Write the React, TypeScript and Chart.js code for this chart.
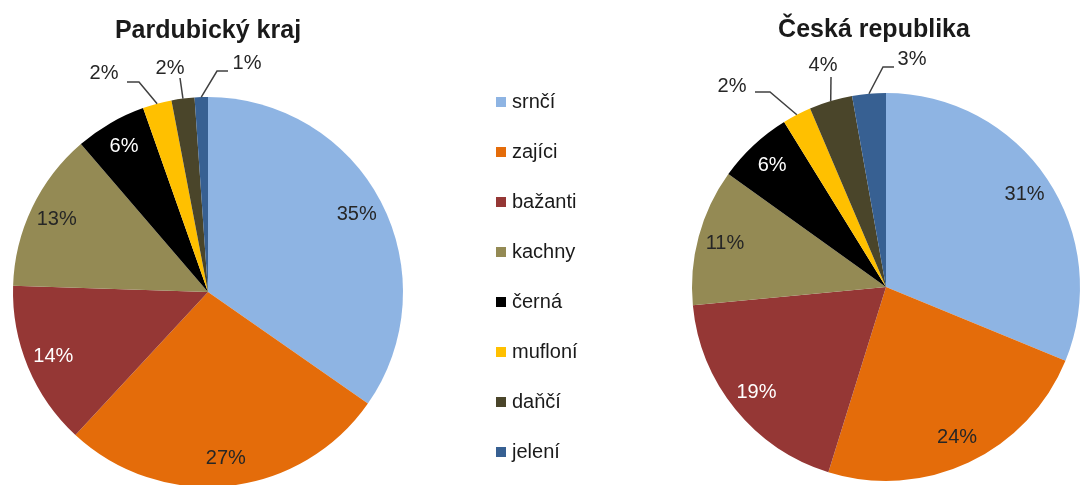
import React, { useEffect, useRef } from 'react';
import { Chart, registerables } from 'chart.js';

Chart.register(...registerables);

// ---- data ----
const categories = ['srnčí', 'zajíci', 'bažanti', 'kachny', 'černá', 'mufloní', 'daňčí', 'jelení'];
const pardubickyValues = [34.7, 27.2, 13.6, 13.2, 5.9, 2.4, 1.9, 1.1];
const ceskaValues = [31.2, 23.6, 18.7, 11.4, 6.3, 2.4, 3.6, 2.8];
const sliceColors = ['#8EB4E3', '#E46C0A', '#953735', '#948A54', '#000000', '#FFC000', '#4A452A', '#376092'];
const chartTitles = ['Pardubický kraj', 'Česká republika'];

const FONT = '"Liberation Sans", Arial, sans-serif';
const TEXT_DARK = '#262626';

type Callout = { index: number; text: [number, number]; path: [number, number][] };
type DecorCfg = {
  title: string;
  titleX: number;
  titleY: number;
  radius: number;
  whiteText: number[];
  callouts: Callout[];
  legend?: { boxX: number; textX: number; y0: number; step: number; box: number };
};

function makeDecor(cfg: DecorCfg) {
  return {
    id: 'pieDecor',
    afterDatasetsDraw(chart: any) {
      const ctx: CanvasRenderingContext2D = chart.ctx;
      const ds = chart.data.datasets[0];
      const values: number[] = ds.data;
      const total = values.reduce((a, b) => a + b, 0);
      const meta = chart.getDatasetMeta(0);
      ctx.save();
      // title
      ctx.fillStyle = '#1a1a1a';
      ctx.font = `bold 25px ${FONT}`;
      ctx.textAlign = 'center';
      ctx.textBaseline = 'alphabetic';
      ctx.fillText(cfg.title, cfg.titleX, cfg.titleY);

      ctx.font = `20px ${FONT}`;
      ctx.textBaseline = 'middle';
      meta.data.forEach((arc: any, i: number) => {
        const p = arc.getProps(['x', 'y', 'startAngle', 'endAngle', 'outerRadius'], true);
        const mid = (p.startAngle + p.endAngle) / 2;
        const label = Math.round((values[i] / total) * 100) + '%';
        const co = cfg.callouts.find((c) => c.index === i);
        if (co) {
          ctx.strokeStyle = '#404040';
          ctx.lineWidth = 1.5;
          ctx.beginPath();
          ctx.moveTo(p.x + Math.cos(mid) * p.outerRadius, p.y + Math.sin(mid) * p.outerRadius);
          co.path.forEach(([dx, dy]) => ctx.lineTo(p.x + dx, p.y + dy));
          ctx.stroke();
          ctx.fillStyle = TEXT_DARK;
          ctx.fillText(label, p.x + co.text[0], p.y + co.text[1]);
        } else {
          const r = p.outerRadius * 0.86;
          ctx.fillStyle = cfg.whiteText.includes(i) ? '#ffffff' : TEXT_DARK;
          ctx.fillText(label, p.x + Math.cos(mid) * r, p.y + Math.sin(mid) * r);
        }
      });

      if (cfg.legend) {
        const lg = cfg.legend;
        const labels: string[] = chart.data.labels;
        const colors: string[] = ds.backgroundColor;
        ctx.textAlign = 'left';
        labels.forEach((lab, i) => {
          const cy = lg.y0 + i * lg.step;
          ctx.fillStyle = colors[i];
          ctx.fillRect(lg.boxX, cy - lg.box / 2, lg.box, lg.box);
          ctx.fillStyle = '#1a1a1a';
          ctx.fillText(lab, lg.textX, cy);
        });
      }
      ctx.restore();
    },
  };
}

function PieChart(props: {
  values: number[];
  padding: { left: number; right: number; top: number; bottom: number };
  cfg: DecorCfg;
}) {
  const ref = useRef<HTMLCanvasElement | null>(null);
  useEffect(() => {
    if (!ref.current) return;
    const chart = new Chart(ref.current, {
      type: 'pie',
      data: {
        labels: categories,
        datasets: [
          {
            data: props.values,
            backgroundColor: sliceColors,
            borderWidth: 0,
            radius: props.cfg.radius,
            clip: false,
          } as any,
        ],
      },
      options: {
        animation: false,
        responsive: true,
        maintainAspectRatio: false,
        layout: { padding: props.padding },
        plugins: {
          legend: { display: false },
          title: { display: false },
          tooltip: { enabled: false },
        },
      },
      plugins: [makeDecor(props.cfg)],
    });
    return () => chart.destroy();
  }, []);
  return <canvas ref={ref} />;
}

const leftCfg: DecorCfg = {
  title: chartTitles[0],
  titleX: 208,
  titleY: 38,
  radius: 195,
  whiteText: [2, 4],
  callouts: [
    { index: 5, text: [-104, -219], path: [[-69, -210], [-81, -210]] },
    { index: 6, text: [-38, -224], path: [[-28, -214]] },
    { index: 7, text: [39, -229], path: [[9, -221], [20, -221]] },
  ],
  legend: { boxX: 496, textX: 512, y0: 102, step: 50, box: 10 },
};

const rightCfg: DecorCfg = {
  title: chartTitles[1],
  titleX: 214,
  titleY: 37,
  radius: 194,
  whiteText: [2, 4],
  callouts: [
    { index: 5, text: [-154, -201], path: [[-116, -195], [-131, -195]] },
    { index: 6, text: [-63, -222], path: [[-55, -210]] },
    { index: 7, text: [26, -228], path: [[-3, -220], [8, -220]] },
  ],
};

export default function App() {
  return (
    <div
      style={{
        position: 'fixed',
        left: 0,
        top: 0,
        width: 1081,
        height: 485,
        overflow: 'hidden',
        background: '#ffffff',
      }}
    >
      <div style={{ position: 'absolute', left: 0, top: 0, width: 640, height: 485 }}>
        <PieChart values={pardubickyValues} padding={{ left: 0, right: 224, top: 99, bottom: 0 }} cfg={leftCfg} />
      </div>
      <div style={{ position: 'absolute', left: 660, top: 0, width: 460, height: 485 }}>
        <PieChart values={ceskaValues} padding={{ left: 0, right: 8, top: 89, bottom: 0 }} cfg={rightCfg} />
      </div>
    </div>
  );
}
